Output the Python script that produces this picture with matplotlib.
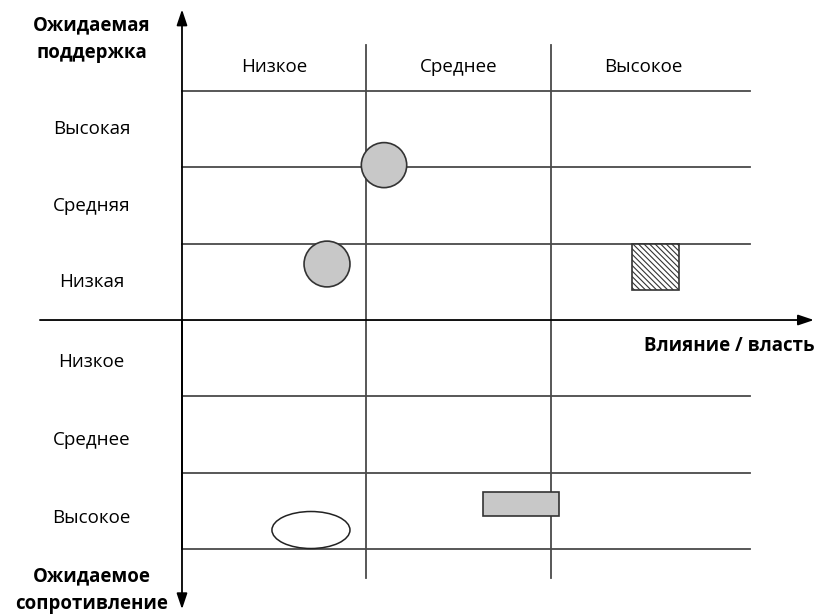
import matplotlib
matplotlib.use("Agg")
import matplotlib.pyplot as plt
from matplotlib.patches import Ellipse, Rectangle

# ---- data (x: influence column units, y: support(+)/resistance(-) row units) ----
col_labels = ["Низкое", "Среднее", "Высокое"]
support_labels = ["Низкая", "Средняя", "Высокая"]
resist_labels = ["Низкое", "Среднее", "Высокое"]

# circles (x, y, diameter_x, diameter_y)
circle_x = [1.095, 0.786]
circle_y = [2.03, 0.734]
circle_w = [0.246, 0.249]
circle_h = [0.59, 0.60]

# hatched square (x0, y0, w, h)
hsq_x, hsq_y, hsq_w, hsq_h = 2.439, 0.393, 0.255, 0.607
# grey rectangle
rect_x, rect_y, rect_w, rect_h = 1.631, -2.569, 0.412, 0.315
# open ellipse
ell_x, ell_y, ell_w, ell_h = 0.699, -2.752, 0.423, 0.485

plt.rcParams['font.family'] = ['Open Sans', 'DejaVu Sans']
plt.rcParams['hatch.linewidth'] = 0.8

fig = plt.figure(figsize=(8.14, 6.16), dpi=100)
ax = fig.add_axes([0, 0, 1, 1])
ax.set_xlim(-0.9864, 3.4255)
ax.set_ylim(-3.879, 4.194)
ax.axis('off')

FS = 13.5
FSB = 13.4
line_col = '#4a4a4a'
# horizontal grid lines
for yv in [3, 2, 1, -1, -2, -3]:
    ax.plot([0, 3.08], [yv, yv], color=line_col, lw=1.3, zorder=1)
# vertical dividers
for xv in [1, 2]:
    ax.plot([xv, xv], [3.6, -3.38], color=line_col, lw=1.3, zorder=1)

# axes arrows
ap = dict(arrowstyle='-|>,head_width=0.32,head_length=0.95',
          color='black', lw=1.3, shrinkA=0, shrinkB=0)
ax.annotate('', xy=(0, 4.07), xytext=(0, -3.0), arrowprops=ap)
ax.annotate('', xy=(0, -3.79), xytext=(0, 0), arrowprops=ap)
ax.annotate('', xy=(3.425, 0), xytext=(-0.77, 0), arrowprops=ap)

# column headers
for i, lab in enumerate(col_labels):
    ax.text(i + 0.5, 3.32, lab, ha='center', va='center', fontsize=FS)
# row labels
for i, lab in enumerate(support_labels):
    ax.text(-0.49, i + 0.5, lab, ha='center', va='center', fontsize=FS)
for i, lab in enumerate(resist_labels):
    ax.text(-0.49, -(i + 0.5) - 0.05 - 0.02 * i, lab, ha='center', va='center',
            fontsize=FS)

# axis titles
ax.text(-0.49, 3.68, "Ожидаемая\nподдержка", ha='center', va='center',
        fontsize=FSB, fontweight='bold', linespacing=1.45)
ax.text(-0.49, -3.54, "Ожидаемое\nсопротивление", ha='center', va='center',
        fontsize=FSB, fontweight='bold', linespacing=1.45)
ax.text(3.43, -0.34, "Влияние / власть", ha='right', va='center',
        fontsize=FSB, fontweight='bold')

# shapes
for x, y, w, h in zip(circle_x, circle_y, circle_w, circle_h):
    ax.add_patch(Ellipse((x, y), w, h, facecolor='#c8c8c8', edgecolor='#333333',
                         lw=1.2, zorder=3))
ax.add_patch(Rectangle((hsq_x, hsq_y), hsq_w, hsq_h, facecolor='white',
                       edgecolor='#333333', hatch='\\\\\\\\\\\\', lw=1.2, zorder=3))
ax.add_patch(Rectangle((rect_x, rect_y), rect_w, rect_h, facecolor='#c8c8c8',
                       edgecolor='#333333', lw=1.2, zorder=3))
ax.add_patch(Ellipse((ell_x, ell_y), ell_w, ell_h, facecolor='white',
                     edgecolor='#222222', lw=1.1, zorder=3))

fig.savefig('out.png', dpi=100)
